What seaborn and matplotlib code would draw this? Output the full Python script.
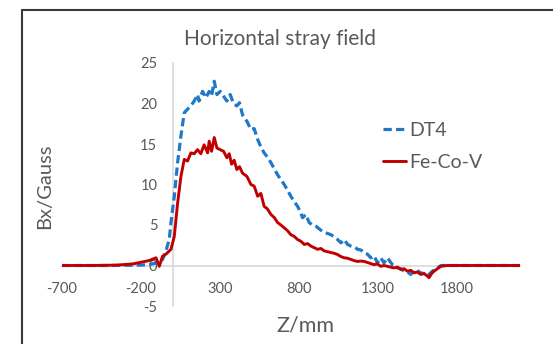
import matplotlib
matplotlib.use("Agg")
import matplotlib.pyplot as plt
import seaborn as sns
import numpy as np
from matplotlib.lines import Line2D

# ---- data ----
dt4_z = [-700, -400, -200, -150, -105, -63, -42, -21, -10, 11, 32, 53, 74, 95, 116, 137,
         158, 168, 190, 211, 232, 247, 264, 281, 302, 323, 344, 365, 386, 407, 424, 443,
         471, 496, 517, 539, 560, 580, 600, 623, 645, 665, 686, 707, 728, 749, 770, 792,
         810, 823, 844, 865, 886, 908, 930, 950, 975, 1003, 1025, 1045, 1066, 1087, 1108,
         1129, 1150, 1172, 1194, 1213, 1234, 1255, 1276, 1297, 1318, 1339, 1360, 1392,
         1424, 1445, 1466, 1487, 1508, 1540, 1571, 1592, 1613, 1645, 1677, 1700, 1800, 2200]
dt4_bx = [0, 0, 0.05, 0.1, 0.3, 0.75, 1.8, 3.2, 5.3, 8.55, 12.7, 16.0, 18.85, 19.3, 19.7, 20.3,
          21.1, 20.3, 21.5, 20.7, 21.5, 20.9, 22.75, 21.1, 21.5, 20.9, 20.3, 21.1, 20.0, 19.7, 20.1, 18.6,
          17.8, 16.8, 16.9, 15.55, 14.6, 13.9, 13.4, 12.7, 11.9, 11.2, 10.6, 10.0, 9.3, 8.55, 7.9, 7.3,
          6.6, 5.9, 6.3, 5.3, 5.0, 4.85, 4.5, 4.2, 4.0, 3.8, 3.5, 3.2, 2.8, 3.2, 2.6,
          2.4, 2.3, 2.0, 1.9, 1.55, 1.4, 0.95, 1.2, 0.33, 0.95, 0.33, 0.95, 0.1,
          -0.3, -0.4, -0.7, -0.8, -1.1, -0.5, -0.9, -1.0, -1.3, -0.7, -0.3, 0, 0, 0]

fecov_z = [-700, -500, -350, -250, -200, -150, -105, -84, -63, -42, -10, 11, 32, 53, 74, 95,
           116, 137, 158, 179, 200, 222, 232, 247, 264, 281, 302, 323, 344, 359, 374, 390,
           407, 424, 443, 471, 496, 517, 539, 559, 580, 600, 623, 645, 665, 686, 707, 728,
           749, 770, 792, 812, 834, 855, 876, 897, 918, 940, 960, 982, 1003, 1025, 1045,
           1066, 1087, 1108, 1129, 1150, 1172, 1193, 1214, 1245, 1276, 1297, 1318, 1339,
           1360, 1381, 1403, 1424, 1445, 1466, 1487, 1508, 1529, 1550, 1571, 1592, 1613,
           1624, 1640, 1656, 1677, 1698, 1740, 1900, 2200]
fecov_bx = [0, 0, 0.05, 0.2, 0.4, 0.6, 0.95, -0.1, 1.15, 1.4, 2.0, 3.6, 7.7, 11.0, 13.1, 12.9,
            13.9, 13.8, 14.3, 13.8, 14.9, 13.9, 15.35, 14.1, 15.8, 14.5, 14.3, 14.1, 13.3, 13.8, 12.5, 13.0,
            11.85, 12.2, 11.4, 11.0, 10.0, 9.8, 8.55, 8.9, 7.3, 7.0, 6.3, 5.9, 5.3, 5.0, 4.65, 4.3,
            3.8, 3.6, 3.2, 3.0, 2.6, 2.7, 2.4, 2.2, 2.0, 2.1, 1.8, 1.7, 1.6, 1.5, 1.35,
            1.1, 0.95, 0.9, 0.75, 0.6, 0.5, 0.55, 0.5, 0.3, 0.1, 0.2, -0.1, 0.0,
            -0.1, -0.2, -0.3, -0.2, -0.5, -0.4, -0.7, -0.6, -0.9, -0.8, -1.1, -1.0, -1.3,
            -1.5, -1.0, -0.7, -0.4, -0.1, 0, 0, 0]

x_ticks = [-700, -200, 300, 800, 1300, 1800]
y_ticks = [-5, 0, 5, 10, 15, 20, 25]

blue = "#1f78c8"
red = "#c00000"
gray_txt = "#595959"
axis_col = "#d9d9d9"

sns.set_theme(style="white")
plt.rcParams['font.family'] = ['Lato', 'DejaVu Sans']
plt.rcParams['axes.unicode_minus'] = False

fig = plt.figure(figsize=(5.53, 3.44), dpi=100)
ax = fig.add_axes([62/553, 38/344, 458/553, 243/344])

sns.lineplot(x=dt4_z, y=dt4_bx, ax=ax, color=blue, linewidth=2.3, estimator=None,
             label="DT4")
sns.lineplot(x=fecov_z, y=fecov_bx, ax=ax, color=red, linewidth=2.1, estimator=None,
             label="Fe-Co-V")
ax.lines[0].set_dashes([2.6, 1.3])

ax.set_xlim(-700, 2200)
ax.set_ylim(-5, 25)
ax.set_xticks(x_ticks)
ax.set_yticks(y_ticks)

for s in ['top', 'right']:
    ax.spines[s].set_visible(False)
ax.spines['left'].set_position(('data', 0))
ax.spines['bottom'].set_position(('data', 0))
for s in ['left', 'bottom']:
    ax.spines[s].set_color(axis_col)
    ax.spines[s].set_linewidth(1.2)
    ax.spines[s].set_zorder(0.5)
ax.tick_params(axis='y', length=0, pad=11, labelsize=10.5, labelcolor=gray_txt)
ax.tick_params(axis='x', length=0, pad=12, labelsize=10.5, labelcolor=gray_txt)
ax.set_xlabel("")
ax.set_ylabel("")
ax.patch.set_alpha(0)

fig.text(280/553, 1 - 39/344, "Horizontal stray field", ha='center', va='center',
         fontsize=15, color=gray_txt)
fig.text(45/553, 1 - 186/344, "Bx/Gauss", ha='center', va='center', rotation=90,
         fontsize=14.5, color=gray_txt)
fig.text(305/553, 1 - 326/344, "Z/mm", ha='center', va='center',
         fontsize=15.5, color=gray_txt)

leg = ax.legend(loc='upper left', bbox_to_anchor=(383/553, 1 - 122/344),
                bbox_transform=fig.transFigure, frameon=False, fontsize=14,
                handlelength=1.2, handletextpad=0.15, labelspacing=0.75,
                borderpad=0, borderaxespad=0)
for t in leg.get_texts():
    t.set_color(gray_txt)

# outer chart frame (cropped at right and bottom)
fig.add_artist(Line2D([22/553, 22/553], [0, 1 - 10/344], transform=fig.transFigure,
                      color="#3a3a3a", linewidth=1.5))
fig.add_artist(Line2D([22/553, 1.0], [1 - 10/344, 1 - 10/344], transform=fig.transFigure,
                      color="#3a3a3a", linewidth=1.5))

fig.savefig("out.png", dpi=100)
